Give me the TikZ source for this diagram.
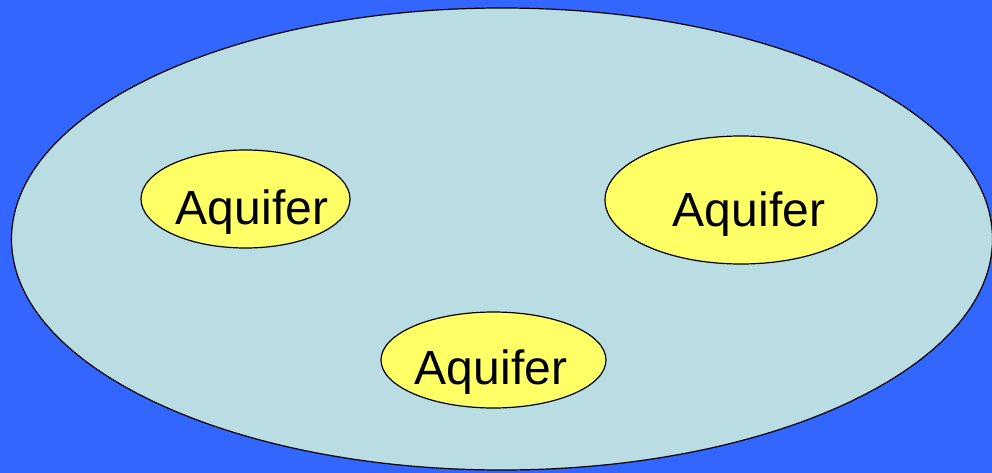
\documentclass[tikz,border=0pt]{standalone}
\usepackage{fontspec}
\setmainfont{Liberation Sans}
\usetikzlibrary{shapes.geometric}
\definecolor{bgblue}{HTML}{3366FF}
\definecolor{basin}{HTML}{B9DDE3}
\definecolor{aqyellow}{HTML}{FFFF66}
\tikzset{
  region/.style={ellipse, draw=black, line width=1.2pt, inner sep=0pt},
  aqlabel/.style={anchor=base, inner sep=0pt, font=\fontsize{48}{52}\selectfont}
}
\begin{document}
\begin{tikzpicture}[x=1pt,y=-1pt]
\fill[bgblue] (0,0) rectangle (992,473);
\useasboundingbox (0,0) rectangle (992,473);
\node[region, fill=basin, minimum width=981pt, minimum height=462pt] (basin) at (502,239) {};
\node[region, fill=aqyellow, minimum width=209pt, minimum height=98pt] (aq1) at (245.5,199) {};
\node[region, fill=aqyellow, minimum width=272pt, minimum height=128pt] (aq2) at (741,200) {};
\node[region, fill=aqyellow, minimum width=225pt, minimum height=96pt] (aq3) at (493.5,360) {};
\node[aqlabel] (t1) at (252,224) {Aquifer};
\node[aqlabel] (t2) at (749,226) {Aquifer};
\node[aqlabel] (t3) at (491,384) {Aquifer};
\end{tikzpicture}
\end{document}
